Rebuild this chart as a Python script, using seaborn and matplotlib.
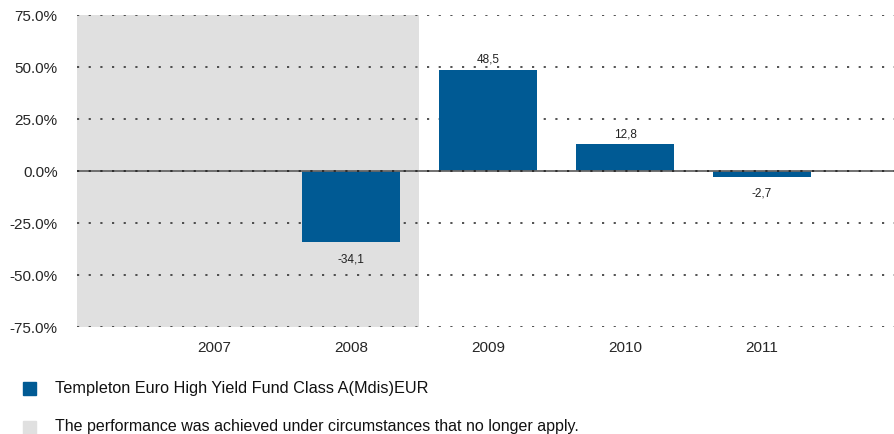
import matplotlib
matplotlib.use("Agg")
import matplotlib.pyplot as plt
import seaborn as sns
import numpy as np
import pandas as pd
from matplotlib.patches import Rectangle

years = ["2007", "2008", "2009", "2010", "2011"]
returns = [np.nan, -34.1, 48.5, 12.8, -2.7]
labels = ["", "-34,1", "48,5", "12,8", "-2,7"]
yticks = [-75, -50, -25, 0, 25, 50, 75]
series_name = "Templeton Euro High Yield Fund Class A(Mdis)EUR"
note = "The performance was achieved under circumstances that no longer apply."

blue = "#005A94"
gray = "#E0E0E0"

sns.set_style("white")
plt.rcParams['font.family'] = ['Liberation Sans', 'DejaVu Sans']

fig = plt.figure(figsize=(8.95, 4.34), dpi=100)
ax = fig.add_axes([0.086, 0.2465, 0.914, 0.7189])

df = pd.DataFrame({"year": years, "ret": returns})
sns.barplot(data=df, x="year", y="ret", order=years, color=blue, width=0.71,
            saturation=1, ax=ax, zorder=3, linewidth=0, edgecolor="none")

ax.set_xlim(-1.0, 4.97)
ax.set_ylim(-75, 75)
ax.axvspan(-1.0, 1.496, color=gray, zorder=0, lw=0)

for y in yticks:
    if y == 0:
        continue
    ax.axhline(y, color="#333333", lw=1.2, ls=(0, (1.3, 5.7)), zorder=1)
ax.axhline(0, color="#666666", lw=1.3, zorder=4)
ax.axhline(0, color="#222222", lw=1.2, ls=(0, (1.3, 5.7)), zorder=4)

ax.set_yticks(yticks)
ax.set_yticklabels([f"{v:.1f}%" for v in yticks], fontsize=11)
ax.tick_params(axis="y", length=0, pad=14)
ax.tick_params(axis="x", length=0, pad=10, labelsize=11)
ax.set_xlabel("")
ax.set_ylabel("")
for s in ax.spines.values():
    s.set_visible(False)

for i, (v, lab) in enumerate(zip(returns, labels)):
    if np.isnan(v):
        continue
    if v >= 0:
        ax.annotate(lab, (i, v), xytext=(0, 3), textcoords="offset points",
                    ha="center", va="bottom", fontsize=8.5, color="#222222")
    else:
        ax.annotate(lab, (i, v), xytext=(0, -8), textcoords="offset points",
                    ha="center", va="top", fontsize=8.5, color="#222222")

fig.patches.append(Rectangle((23 / 895, 1 - 395 / 434), 13 / 895, 13 / 434,
                             transform=fig.transFigure, color=blue, figure=fig))
fig.text(55 / 895, 1 - 389 / 434, series_name, fontsize=11.7, va="center", ha="left", color="#111111")
fig.patches.append(Rectangle((23 / 895, 1 - 434 / 434), 13 / 895, 13 / 434,
                             transform=fig.transFigure, color=gray, figure=fig))
fig.text(55 / 895, 1 - 427 / 434, note, fontsize=11.5, va="center", ha="left", color="#111111")

fig.savefig("out.png", dpi=100)
